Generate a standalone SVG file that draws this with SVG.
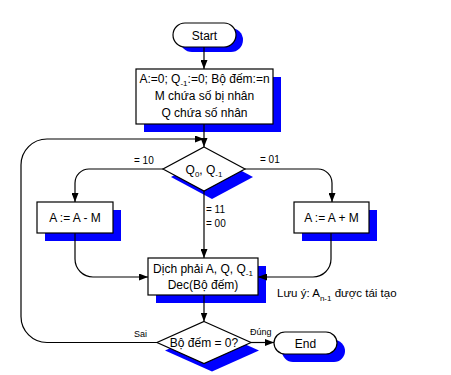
<svg xmlns="http://www.w3.org/2000/svg" width="451" height="375" viewBox="0 0 451 375">
<style>
.sh{fill:#0000ff;stroke:none}
.nd{fill:#ffffff;stroke:#000000;stroke-width:1.2}
.t{font-family:"Liberation Sans",Arial,sans-serif;font-size:12px;fill:#000000;text-anchor:middle}
.lb{font-family:"Liberation Sans",Arial,sans-serif;font-size:10px;fill:#000000}
.sm{font-family:"Liberation Sans",Arial,sans-serif;font-size:9px;fill:#000000}
.ln{fill:none;stroke:#000000;stroke-width:1.2}
</style>
<defs>
<marker id="ah" markerWidth="9" markerHeight="7" refX="9" refY="3.5" orient="auto" markerUnits="userSpaceOnUse">
<path d="M0,0 L9,3.5 L0,7 Z" fill="#000000"/>
</marker>
</defs>
<g id="start">
<rect class="sh" x="180" y="28" width="63" height="24" rx="12"/>
<rect class="nd" x="173" y="23" width="63" height="24" rx="12"/>
<text class="t" x="204.5" y="39.5">Start</text>
</g>
<g id="init">
<rect class="sh" x="144" y="77" width="137" height="55"/>
<rect class="nd" x="136" y="69" width="137" height="55"/>
<text class="t" x="204.5" y="83">A:=0; Q<tspan font-size="8" dy="3">-1</tspan><tspan dy="-3">:=0; Bộ đếm:=n</tspan></text>
<text class="t" x="204.5" y="100">M chứa số bị nhân</text>
<text class="t" x="204.5" y="116.5">Q chứa số nhân</text>
</g>
<g id="check">
<polygon class="sh" points="212,155 253,177 212,199 171,177"/>
<polygon class="nd" points="204,147 245,169 204,191 163,169"/>
<text class="t" x="204" y="174">Q<tspan font-size="8" dy="3">0</tspan><tspan dy="-3">, Q</tspan><tspan font-size="8" dy="3">-1</tspan></text>
</g>
<g id="sub">
<rect class="sh" x="45" y="210" width="76" height="31"/>
<rect class="nd" x="37" y="202" width="76" height="31"/>
<text class="t" x="75" y="222">A := A - M</text>
</g>
<g id="add">
<rect class="sh" x="302" y="210" width="75" height="31"/>
<rect class="nd" x="294" y="202" width="75" height="31"/>
<text class="t" x="331.5" y="222">A := A + M</text>
</g>
<g id="shift">
<rect class="sh" x="156" y="266" width="110" height="37"/>
<rect class="nd" x="148" y="258" width="110" height="37"/>
<text class="t" x="203" y="273">Dịch phải A, Q, Q<tspan font-size="8" dy="3">-1</tspan></text>
<text class="t" x="203" y="289">Dec(Bộ đếm)</text>
</g>
<g id="count">
<polygon class="sh" points="212,329.5 259,350.5 212,371.5 165,350.5"/>
<polygon class="nd" points="204,321.5 251,342.5 204,363.5 157,342.5"/>
<text class="t" x="204" y="347">Bộ đếm = 0?</text>
</g>
<g id="end">
<rect class="sh" x="282" y="340" width="63" height="22" rx="11"/>
<rect class="nd" x="274" y="332" width="63" height="22" rx="11"/>
<text class="t" x="305.5" y="347.5">End</text>
</g>
<g id="note">
<text class="t" style="text-anchor:start;font-size:11.5px" x="277" y="297">Lưu ý: A<tspan font-size="8" dy="4">n-1</tspan><tspan dy="-4"> được tái tạo</tspan></text>
</g>
<g id="connectors">
<path class="ln" d="M204,47 V69" marker-end="url(#ah)"/>
<path class="ln" d="M204,124 V147" marker-end="url(#ah)"/>
<path class="ln" d="M163,169 H89 A14,14 0 0 0 75,183 V202" marker-end="url(#ah)"/>
<path class="ln" d="M245,169 H318 A14,14 0 0 1 332,183 V202" marker-end="url(#ah)"/>
<path class="ln" d="M204,191 V258" marker-end="url(#ah)"/>
<path class="ln" d="M75,233 V259 A18,18 0 0 0 93,277 H148" marker-end="url(#ah)"/>
<path class="ln" d="M331,233 V259 A18,18 0 0 1 313,277 H258" marker-end="url(#ah)"/>
<path class="ln" d="M204,295 V321.5" marker-end="url(#ah)"/>
<path class="ln" d="M251,342.5 H274" marker-end="url(#ah)"/>
<path class="ln" d="M157,342.5 H47 A26,26 0 0 1 21,316.5 V165 A26,26 0 0 1 47,139 H204" marker-end="url(#ah)"/>
<text class="lb" x="134" y="164">= 10</text>
<text class="lb" x="260" y="163">= 01</text>
<text class="lb" x="206" y="213">= 11</text>
<text class="lb" x="206" y="227">= 00</text>
<text class="sm" x="134" y="337">Sai</text>
<text class="sm" x="250" y="335">Đúng</text>
</g>
</svg>
